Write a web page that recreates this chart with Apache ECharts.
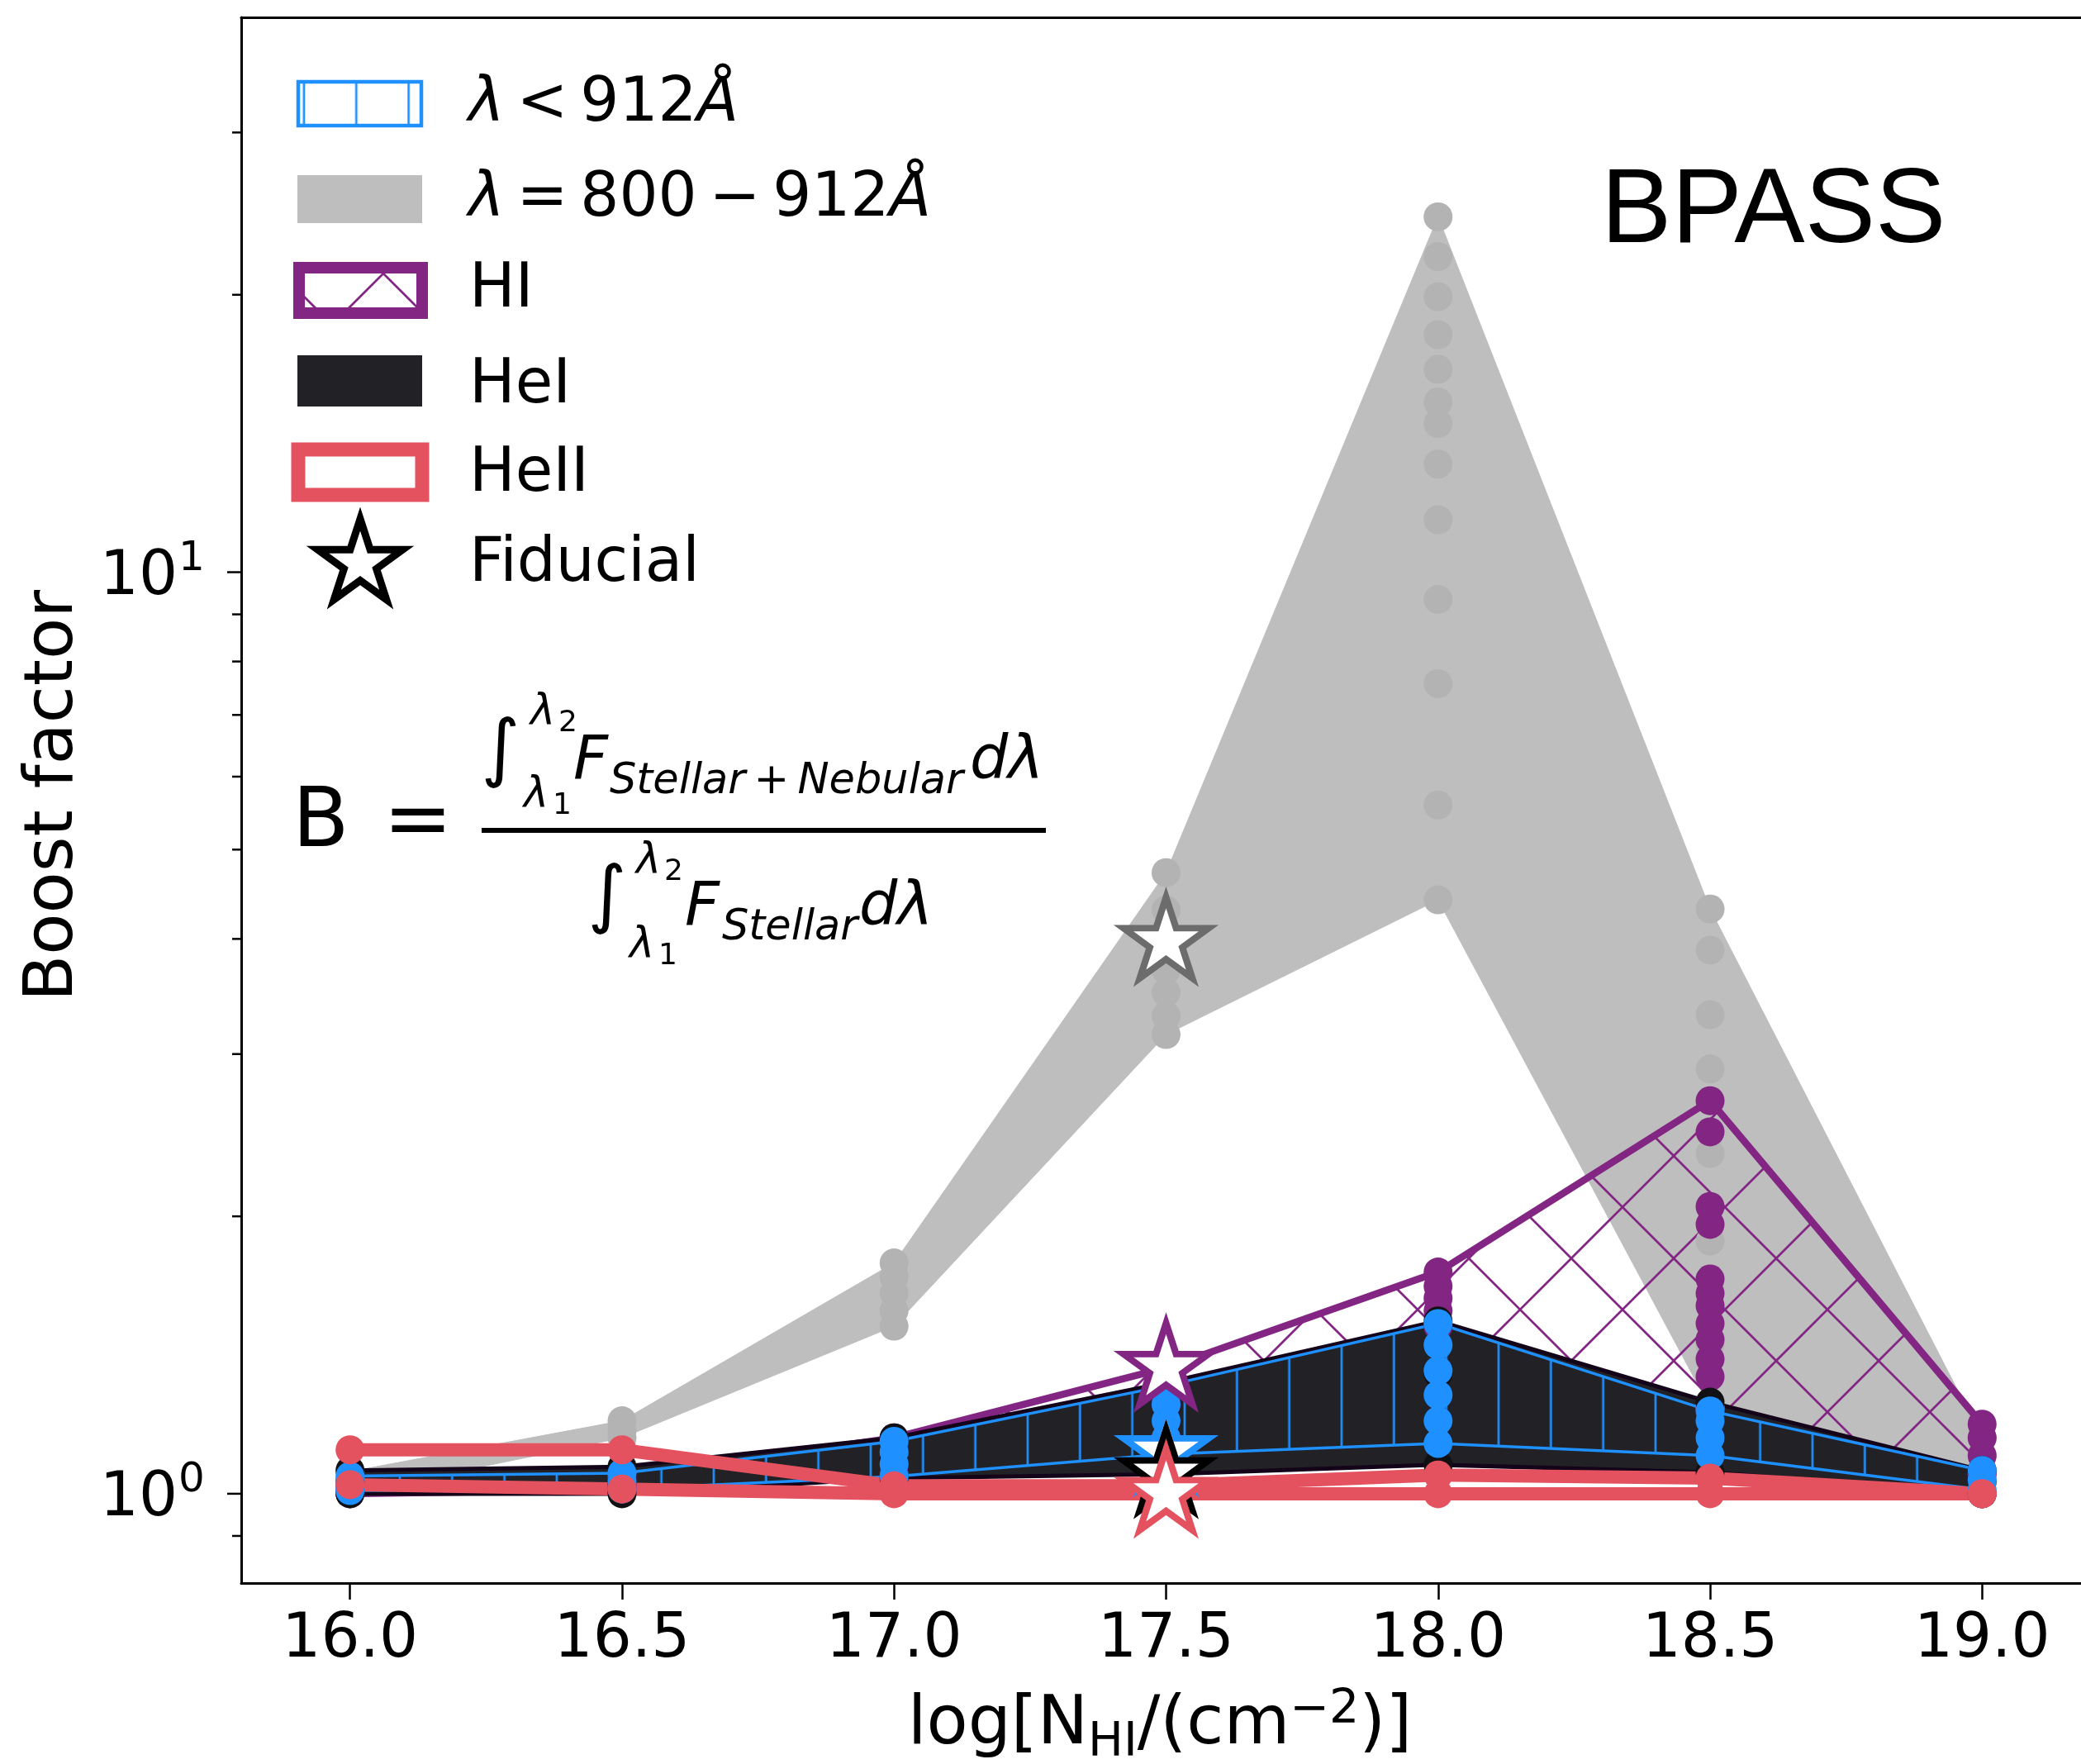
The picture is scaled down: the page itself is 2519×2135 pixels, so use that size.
<!DOCTYPE html>
<html>
<head>
<meta charset="utf-8">
<title>Boost factor vs HI column density (BPASS)</title>
<script src="https://cdn.jsdelivr.net/npm/echarts@6.0.0/dist/echarts.min.js"></script>
<style>
  html, body { margin: 0; padding: 0; background: #ffffff; }
  #chart { width: 2519px; height: 2135px; }
</style>
</head>
<body>
<div id="chart"></div>
<script>
// ---- data -------------------------------------------------------------
// log N_HI grid
const nhi = [16.0, 16.5, 17.0, 17.5, 18.0, 18.5, 19.0];

// boost factor of every model at each column density (one inner list per N_HI)
const boostFarUV = [            // lambda = 800-912 A
  [1.00, 1.02, 1.04, 1.057],
  [1.15, 1.17, 1.20],
  [1.52, 1.58, 1.65, 1.72, 1.78],
  [3.15, 3.30, 3.50, 3.70, 4.00, 4.30, 4.72],
  [4.41, 5.59, 7.57, 9.34, 11.4, 13.1, 14.5, 15.3, 16.6, 18.1, 19.9, 22.0, 24.3],
  [1.24, 1.45, 1.88, 2.34, 2.89, 3.31, 3.89, 4.31],
  [1.00, 1.05, 1.10, 1.15]
];
const boostHI = [
  [1.00, 1.01, 1.02],
  [1.01, 1.02, 1.04],
  [1.05, 1.10, 1.15],
  [1.15, 1.25, 1.32, 1.37],
  [1.52, 1.58, 1.63, 1.68, 1.74],
  [1.24, 1.34, 1.40, 1.47, 1.53, 1.60, 1.65, 1.71, 1.96, 2.05, 2.47, 2.67],
  [1.00, 1.05, 1.10, 1.15, 1.19]
];
const boostHeI = [
  [1.00, 1.03, 1.06],
  [1.00, 1.03, 1.07],
  [1.04, 1.09, 1.15],
  [1.05, 1.10, 1.20, 1.32],
  [1.075, 1.20, 1.35, 1.54],
  [1.055, 1.15, 1.257],
  [1.00, 1.03, 1.06]
];
const boostLyC = [              // lambda < 912 A
  [1.008, 1.025, 1.045],
  [1.012, 1.03, 1.053],
  [1.044, 1.077, 1.11, 1.14],
  [1.104, 1.15, 1.20, 1.25, 1.31],
  [1.134, 1.20, 1.28, 1.36, 1.45, 1.53],
  [1.10, 1.15, 1.20, 1.23],
  [1.01, 1.035, 1.06]
];
const boostHeII = [
  [1.023, 1.116],
  [1.012, 1.116],
  [1.00, 1.02],
  [1.00, 1.02],
  [1.00, 1.048],
  [1.00, 1.04],
  [1.00, 1.00]
];

// fiducial model
const fiducialNHI = 17.5;
const fiducialFarUV = 3.97;
const fiducialHI = 1.37;
const fiducialLyC = 1.11;
const fiducialHeI = 1.05;
const fiducialHeII = 1.00;

// axes
const xTickValues = [16.0, 16.5, 17.0, 17.5, 18.0, 18.5, 19.0];
const yMajorTicks = [1, 10];
const yMinorTicks = [0.9, 2, 3, 4, 5, 6, 7, 8, 9, 20, 30];
const X_MIN = 15.8, X_MAX = 19.2, Y_MIN = 0.8, Y_MAX = 40;

// ---- styles -----------------------------------------------------------
const C_GRAY = '#bebebe', C_GRAY_DOT = '#b3b3b3', C_GRAY_STAR = '#6c6c6c';
const C_PURPLE = '#822583', C_BLUE = '#1e90ff', C_BLACK = '#222226';
const C_RED = '#e5525f';
const FONT = '"DejaVu Sans"';
const MID = 0.3;           // canvas "middle" baseline offset, fraction of font size
const DOT = 35;

// hatch tiles
function hatchCanvas(kind, color, w, h, lw) {
  const c = document.createElement('canvas');
  c.width = w; c.height = h;
  const g = c.getContext('2d');
  g.strokeStyle = color; g.lineWidth = lw;
  if (kind === 'x') {
    for (const o of [-w, 0, w]) {
      g.beginPath(); g.moveTo(o, 0); g.lineTo(o + w, h); g.stroke();
      g.beginPath(); g.moveTo(o, h); g.lineTo(o + w, 0); g.stroke();
    }
  } else {
    for (const lx of [10, 10 + w / 3, 10 + 2 * w / 3]) {
      g.beginPath(); g.moveTo(lx, 0); g.lineTo(lx, h); g.stroke();
    }
  }
  return c;
}
const crossTile = hatchCanvas('x', C_PURPLE, 124, 124, 2.7);
const vertTile = hatchCanvas('|', C_BLUE, 190, 40, 2.7);
const crossFill = { image: crossTile, repeat: 'repeat', x: 42, y: 35 };
const vertFill = { image: vertTile, repeat: 'repeat', x: 30.6, y: 0 };

// five-pointed star outline
function starPoints(cx, cy, R) {
  const pts = [];
  for (let k = 0; k < 10; k++) {
    const a = (-90 + k * 36) * Math.PI / 180;
    const r = k % 2 === 0 ? R : R * 0.381966;
    pts.push([cx + r * Math.cos(a), cy + r * Math.sin(a)]);
  }
  return pts;
}
const starPath = 'path://' + starPoints(0, 0, 50)
  .map((p, i) => (i ? 'L' : 'M') + p[0].toFixed(2) + ',' + p[1].toFixed(2)).join('') + 'Z';

// ---- series builders --------------------------------------------------
function bandSeries(name, cols, style) {
  return {
    type: 'custom', name, coordinateSystem: 'cartesian2d', silent: true,
    data: [[nhi[0], 1]],
    renderItem(params, api) {
      const top = nhi.map((x, i) => api.coord([x, Math.max(...cols[i])]));
      const bot = nhi.map((x, i) => api.coord([x, Math.min(...cols[i])])).reverse();
      return { type: 'polygon', shape: { points: top.concat(bot) }, style };
    }
  };
}
function dotSeries(name, cols, color) {
  return {
    type: 'scatter', name, symbol: 'circle', symbolSize: DOT, silent: true,
    itemStyle: { color, opacity: 1 },
    data: cols.flatMap((c, i) => c.map(v => [nhi[i], v]))
  };
}
function starSeries(name, value, edge) {
  return {
    type: 'scatter', name, symbol: starPath, symbolSize: [103, 98],
    symbolOffset: [0, -5], silent: true,
    itemStyle: { color: '#ffffff', borderColor: edge, borderWidth: 8, opacity: 1 },
    data: [[fiducialNHI, value]]
  };
}

// y ticks and labels of the log axis
const yTickData = yMajorTicks.map(v => [X_MIN, v, 1]).concat(yMinorTicks.map(v => [X_MIN, v, 0]));
const yTickSeries = {
  type: 'custom', name: 'yticks', coordinateSystem: 'cartesian2d', silent: true, z: 5,
  data: yTickData,
  renderItem(params, api) {
    const v = api.value(1), major = api.value(2) === 1;
    const p = api.coord([X_MIN, v]);
    const len = major ? 17 : 11;
    const children = [{
      type: 'line', shape: { x1: p[0] - len, y1: p[1], x2: p[0], y2: p[1] },
      style: { stroke: '#000', lineWidth: 2.5 }
    }];
    if (major) {
      const e = Math.round(Math.log10(v));
      children.push({
        type: 'text', style: {
          text: '10', x: p[0] - 77, y: p[1] + 29 - MID * 74, align: 'right', verticalAlign: 'middle',
          font: '74px ' + FONT, fill: '#000'
        }
      }, {
        type: 'text', style: {
          text: String(e), x: p[0] - 76, y: p[1] - 1 - MID * 50, align: 'left', verticalAlign: 'middle',
          font: '50px ' + FONT, fill: '#000'
        }
      });
    }
    return { type: 'group', children };
  }
};

// ---- text helpers -----------------------------------------------------
const mctx = document.createElement('canvas').getContext('2d');
function fontOf(p) {
  return (p.italic ? 'italic ' : '') + p.size + 'px ' + (p.family || FONT);
}
function textEl(t, x, baseline, size, opt) {
  opt = opt || {};
  return {
    type: 'text', silent: true, z: 100,
    style: {
      text: t, x, y: baseline - MID * size,
      font: fontOf({ italic: opt.italic, size, family: opt.family }),
      fill: opt.color || '#000', align: opt.align || 'left', verticalAlign: 'middle'
    }
  };
}
function runEls(pieces, x, baseline, anchor) {
  const widths = pieces.map(p => { mctx.font = fontOf(p); return mctx.measureText(p.t).width; });
  const total = widths.reduce((a, b) => a + b, 0);
  let cx = anchor === 'center' ? x - total / 2 : x;
  return pieces.map((p, i) => {
    const el = textEl(p.t, cx, baseline + (p.dy || 0), p.size, p);
    cx += widths[i];
    return el;
  });
}

// ---- legend, labels and formula ---------------------------------------
const TH = '\u2009';
const legendEls = [
  { type: 'rect', silent: true, z: 100, shape: { x: 361, y: 99, width: 149, height: 53 },
    style: { fill: { image: vertTile, repeat: 'repeat', x: 41.3, y: 0 }, stroke: C_BLUE, lineWidth: 4.5 } },
  { type: 'rect', silent: true, z: 100, shape: { x: 360, y: 212, width: 151, height: 58 },
    style: { fill: C_GRAY } },
  { type: 'rect', silent: true, z: 100, shape: { x: 362, y: 324, width: 149, height: 55 },
    style: { fill: { image: crossTile, repeat: 'repeat', x: 30, y: 21 }, stroke: C_PURPLE, lineWidth: 14 } },
  { type: 'rect', silent: true, z: 100, shape: { x: 360, y: 430, width: 151, height: 62 },
    style: { fill: C_BLACK } },
  { type: 'rect', silent: true, z: 100, shape: { x: 361, y: 544, width: 150, height: 55 },
    style: { fill: 'none', stroke: C_RED, lineWidth: 17 } },
  { type: 'polygon', silent: true, z: 100, shape: { points: starPoints(436, 682, 54) },
    style: { fill: '#fff', stroke: '#000', lineWidth: 9, lineJoin: 'miter' } }
].concat(
  runEls([{ t: 'λ', size: 74, italic: true }, { t: TH + '<' + TH + '912', size: 74 }, { t: 'Å', size: 74, italic: true }], 567, 149),
  runEls([{ t: 'λ', size: 74, italic: true }, { t: TH + '=' + TH + '800' + TH + '−' + TH + '912', size: 74 }, { t: 'Å', size: 74, italic: true }], 567, 264),
  [textEl('HI', 568, 374, 74), textEl('HeI', 568, 490, 74), textEl('HeII', 568, 597, 74), textEl('Fiducial', 568, 706, 74)]
);

const titleEls = [
  textEl('BPASS', 1938, 296, 128, { family: '"Liberation Sans"' }),
  {
    type: 'text', silent: true, z: 100, x: 90 - MID * 82, y: 963, rotation: Math.PI / 2,
    style: { text: 'Boost factor', x: 0, y: 0, font: '82px ' + FONT, fill: '#000', align: 'center', verticalAlign: 'middle' }
  }
].concat(runEls([
  { t: 'log[N', size: 82 }, { t: 'HI', size: 57, dy: 14 }, { t: '/(cm', size: 82 },
  { t: '−2', size: 57, dy: -26 }, { t: ')]', size: 82 }
], 1404, 2113, 'center'));

const formulaEls = [
  textEl('B', 354, 1028, 100),
  textEl('=', 464, 1028, 100),
  { type: 'line', silent: true, z: 100, shape: { x1: 583, y1: 1005, x2: 1266, y2: 1005 }, style: { stroke: '#000', lineWidth: 6 } },
  // numerator
  { type: 'text', silent: true, z: 100, style: { text: '∫', x: 606, y: 912, font: '90px ' + FONT, fill: '#000', align: 'center', verticalAlign: 'middle' } },
  textEl('λ', 642, 878, 51, { italic: true }), textEl('2', 676, 886, 36),
  textEl('λ', 634, 978, 51, { italic: true }), textEl('1', 669, 986, 36),
  textEl('F', 694, 945, 73, { italic: true })
].concat(
  runEls([{ t: 'Stellar', size: 51, italic: true }, { t: TH + '+' + TH, size: 51 }, { t: 'Nebular', size: 51, italic: true }], 738, 962),
  [textEl('dλ', 1174, 945, 73, { italic: true }),
  // denominator
  { type: 'text', silent: true, z: 100, style: { text: '∫', x: 735, y: 1089, font: '90px ' + FONT, fill: '#000', align: 'center', verticalAlign: 'middle' } },
  textEl('λ', 770, 1058, 51, { italic: true }), textEl('2', 804, 1066, 36),
  textEl('λ', 762, 1160, 51, { italic: true }), textEl('1', 797, 1168, 36),
  textEl('F', 829, 1122, 73, { italic: true }),
  textEl('Stellar', 874, 1139, 51, { italic: true }),
  textEl('dλ', 1040, 1122, 73, { italic: true })]
);

// ---- chart ------------------------------------------------------------
const chart = echarts.init(document.getElementById('chart'), null, { renderer: 'canvas', width: 2519, height: 2135 });
chart.setOption({
  animation: false,
  backgroundColor: '#ffffff',
  grid: { left: 292, top: 21, width: 2239, height: 1895, containLabel: false, outerBoundsMode: 'none' },
  xAxis: [{
    type: 'value', min: X_MIN, max: X_MAX, position: 'bottom',
    axisLine: { show: true, onZero: false, lineStyle: { color: '#000', width: 3 } },
    axisTick: { show: true, customValues: xTickValues, length: 20, lineStyle: { color: '#000', width: 2.5 } },
    axisLabel: { show: true, customValues: xTickValues, formatter: v => Number(v).toFixed(1),
      fontSize: 74, fontFamily: 'DejaVu Sans', color: '#000', margin: 33 },
    splitLine: { show: false }
  }, {
    type: 'value', min: X_MIN, max: X_MAX, position: 'top',
    axisLine: { show: true, onZero: false, lineStyle: { color: '#000', width: 3 } },
    axisTick: { show: false }, axisLabel: { show: false }, splitLine: { show: false }
  }],
  yAxis: {
    type: 'log', logBase: 10, min: Y_MIN, max: Y_MAX,
    axisLine: { show: true, onZero: false, lineStyle: { color: '#000', width: 3 } },
    axisTick: { show: false }, axisLabel: { show: false }, splitLine: { show: false }, minorTick: { show: false }
  },
  series: [
    bandSeries('λ = 800 − 912Å', boostFarUV, { fill: C_GRAY, stroke: C_GRAY, lineWidth: 1 }),
    dotSeries('λ = 800 − 912Å dots', boostFarUV, C_GRAY_DOT),
    bandSeries('HI', boostHI, { fill: crossFill, stroke: C_PURPLE, lineWidth: 8.5, lineJoin: 'miter' }),
    dotSeries('HI dots', boostHI, C_PURPLE),
    bandSeries('HeI', boostHeI, { fill: C_BLACK, stroke: '#130419', lineWidth: 5 }),
    dotSeries('HeI dots', boostHeI, '#111114'),
    bandSeries('λ < 912Å', boostLyC, { fill: vertFill, stroke: C_BLUE, lineWidth: 3.5 }),
    dotSeries('λ < 912Å dots', boostLyC, C_BLUE),
    bandSeries('HeII', boostHeII, { fill: 'none', stroke: C_RED, lineWidth: 16 }),
    dotSeries('HeII dots', boostHeII, C_RED),
    starSeries('fiducial 800-912', fiducialFarUV, C_GRAY_STAR),
    starSeries('fiducial HI', fiducialHI, C_PURPLE),
    starSeries('fiducial LyC', fiducialLyC, C_BLUE),
    starSeries('fiducial HeI', fiducialHeI, '#000000'),
    starSeries('fiducial HeII', fiducialHeII, C_RED),
    yTickSeries
  ],
  graphic: { elements: legendEls.concat(titleEls, formulaEls) }
});
</script>
</body>
</html>
